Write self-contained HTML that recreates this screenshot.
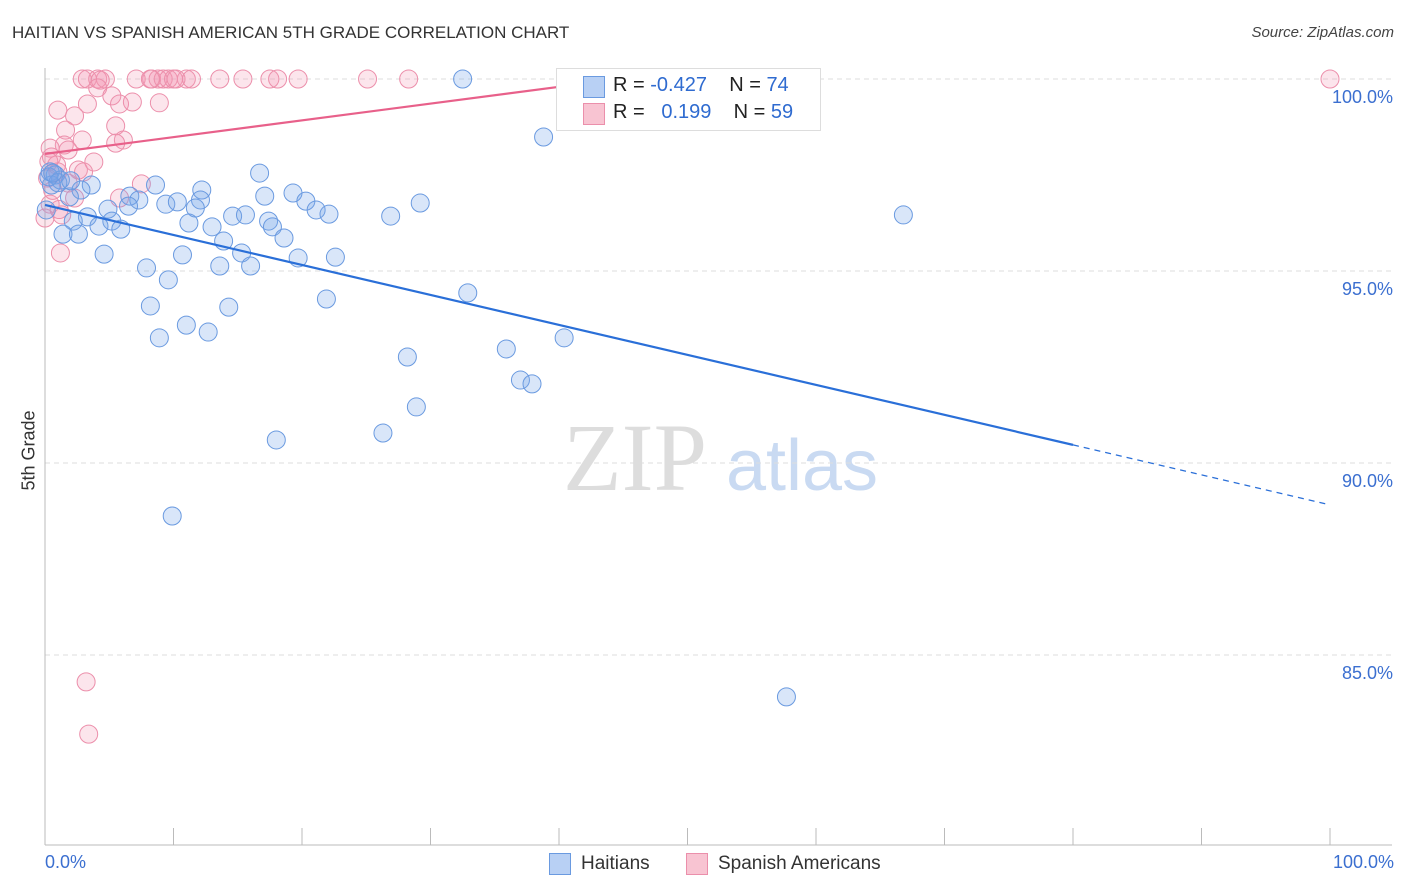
<!DOCTYPE html>
<html><head><meta charset="utf-8"><style>
body{margin:0;background:#fff;font-family:"Liberation Sans",sans-serif}
#wrap{position:relative;width:1406px;height:892px;overflow:hidden}
.t{position:absolute;white-space:nowrap}
</style></head><body>
<div id="wrap">
<div class="t" style="left:12px;top:23px;font-size:17px;color:#333">HAITIAN VS SPANISH AMERICAN 5TH GRADE CORRELATION CHART</div>
<div class="t" style="right:12px;top:24px;font-size:15px;color:#444;font-style:italic">Source: ZipAtlas.com</div>
<div class="t" style="left:4px;top:455px;font-size:18px;color:#333;transform:rotate(-90deg);transform-origin:center;width:50px;text-align:center">5th Grade</div>
<svg id="svg" width="1406" height="892" style="position:absolute;left:0;top:0">
<text x="635" y="490" font-size="96" font-family="Liberation Serif,serif" fill="#ddd" text-anchor="middle">ZIP</text>
<text x="802" y="490" font-size="72" font-family="Liberation Sans,sans-serif" fill="#c9daf2" text-anchor="middle">atlas</text>
</svg>
<div style="position:absolute;left:556px;top:68px;width:263px;height:61px;border:1px solid #ddd;background:#fff"></div>
<div style="position:absolute;left:583px;top:76px;width:20px;height:20px;background:#b8d0f4;border:1px solid #6a9ae0"></div>
<div style="position:absolute;left:583px;top:103px;width:20px;height:20px;background:#f8c4d2;border:1px solid #eb8fab"></div>
<div class="t" style="left:613px;top:74px;font-size:20px;color:#222">R = <span style="color:#2f6bd0">-0.427</span>&nbsp;&nbsp;&nbsp; N = <span style="color:#2f6bd0">74</span></div>
<div class="t" style="left:613px;top:101px;font-size:20px;color:#222">R = &nbsp;&nbsp;<span style="color:#2f6bd0">0.199</span>&nbsp;&nbsp;&nbsp; N = <span style="color:#2f6bd0">59</span></div>
<div class="t" style="left:45px;top:852px;font-size:18px;color:#3b6fd0">0.0%</div>
<div class="t" style="right:12px;top:852px;font-size:18px;color:#3b6fd0">100.0%</div>
<div style="position:absolute;left:549px;top:853px;width:20px;height:20px;background:#b8d0f4;border:1px solid #6a9ae0"></div>
<div class="t" style="left:581px;top:853px;font-size:19px;color:#333">Haitians</div>
<div style="position:absolute;left:686px;top:853px;width:20px;height:20px;background:#f8c4d2;border:1px solid #eb8fab"></div>
<div class="t" style="left:718px;top:853px;font-size:19px;color:#333">Spanish Americans</div>
</div>
<script>
const yTicks=[100,95,90,85];
const yTickLabels=["100.0%","95.0%","90.0%","85.0%"];
const xTicks=[0,10,20,30,40,50,60,70,80,90,100];
const blueX=[32.5,38.8,16.7,8.6,3.6,2.8,12.2,19.3,17.1,6.6,7.3,9.4,10.3,12.1,20.3,29.2,4.9,6.5,11.7,21.1,22.1,14.6,15.6,26.9,66.8,3.3,5.2,2.2,11.2,13.0,17.4,17.7,4.2,5.9,1.4,2.6,18.6,13.9,4.6,10.7,15.3,19.7,22.6,7.9,13.6,16.0,9.6,21.9,32.9,8.2,14.3,11.0,12.7,8.9,40.4,35.9,28.2,37.0,37.9,28.9,26.3,18.0,9.9,57.7,0.8,1.2,0.4,0.5,1.9,0.1,0.3,1.0,0.6,2.0];
const blueY=[100,98.49,97.55,97.24,97.24,97.11,97.11,97.03,96.95,96.95,96.85,96.74,96.80,96.85,96.82,96.77,96.61,96.69,96.64,96.59,96.48,96.43,96.46,96.43,96.46,96.41,96.30,96.30,96.25,96.15,96.30,96.15,96.17,96.09,95.96,95.96,95.86,95.78,95.44,95.42,95.47,95.34,95.36,95.08,95.13,95.13,94.77,94.27,94.43,94.09,94.06,93.59,93.41,93.26,93.26,92.97,92.76,92.16,92.06,91.46,90.78,90.60,88.62,83.91,97.50,97.37,97.58,97.24,96.93,96.59,97.45,97.30,97.55,97.35];
const pinkX=[2.9,3.3,4.1,4.7,7.1,8.3,8.8,9.2,9.6,10.0,11.0,13.6,15.4,17.5,18.1,19.7,25.1,28.3,100,4.3,8.2,10.2,11.4,4.1,5.2,3.3,5.8,8.9,6.8,1.0,2.3,1.6,5.5,2.9,6.1,5.5,1.5,1.8,0.4,0.5,3.8,0.9,2.6,3.0,1.0,0.2,1.8,7.5,5.8,2.3,0.4,1.3,0,1.2,3.2,3.4,0.6,1.1,0.3];
const pinkY=[100,100,100,100,100,100,100,100,100,100,100,100,100,100,100,100,100,100,100,99.97,100,100,100,99.77,99.56,99.35,99.35,99.38,99.40,99.19,99.04,98.67,98.78,98.41,98.41,98.33,98.28,98.15,98.20,97.97,97.84,97.76,97.63,97.58,97.58,97.42,97.29,97.27,96.90,96.90,96.74,96.46,96.38,95.47,84.30,82.94,97.10,96.60,97.85];
const blueTrend=[96.72,88.91];
const blueSolidEnd=80;
const pinkTrend=[98.05,99.9,42.4];
const X0=45,X1=1330,Y100=79,PX=38.4;
const sx=v=>X0+(X1-X0)*v/100;
const sy=v=>Y100+(100-v)*PX;
const svg=document.getElementById('svg');
const NS='http://www.w3.org/2000/svg';
function mk(tag,attrs){const e=document.createElementNS(NS,tag);for(const k in attrs)e.setAttribute(k,attrs[k]);svg.appendChild(e);return e;}
yTicks.forEach((t,i)=>{
 const g=mk('line',{x1:45,x2:1392,y1:sy(t),y2:sy(t),stroke:'#ddd','stroke-dasharray':'5,4'});
 
 
 const tx=mk('text',{x:1393,y:sy(t)+24,'text-anchor':'end','font-size':18,fill:'#3b6fd0','font-family':'Liberation Sans,sans-serif'});
 tx.textContent=yTickLabels[i];
 
 
});
const ax=mk('line',{x1:45,x2:45,y1:68,y2:845,stroke:'#bbb'});


const bx=mk('line',{x1:45,x2:1392,y1:845,y2:845,stroke:'#bbb'});


xTicks.forEach(t=>{
 const l=mk('line',{x1:sx(t),x2:sx(t),y1:828,y2:845,stroke:'#bbb'});
 
 
});
pinkX.forEach((x,i)=>{
 const c=mk('circle',{cx:sx(x),cy:sy(pinkY[i]),r:9,fill:'rgba(243,150,178,0.25)',stroke:'#ec8fab','stroke-width':1});
 
 
});
blueX.forEach((x,i)=>{
 const c=mk('circle',{cx:sx(x),cy:sy(blueY[i]),r:9,fill:'rgba(120,165,235,0.28)',stroke:'#6a9ae0','stroke-width':1});
 
 
});
const bAt=x=>blueTrend[0]+(blueTrend[1]-blueTrend[0])*x/100;
const bl=mk('line',{x1:sx(0),y1:sy(bAt(0)),x2:sx(blueSolidEnd),y2:sy(bAt(blueSolidEnd)),stroke:'#2a6fd8','stroke-width':2.2});


const bd=mk('line',{x1:sx(blueSolidEnd),y1:sy(bAt(blueSolidEnd)),x2:sx(100),y2:sy(bAt(100)),stroke:'#2a6fd8','stroke-width':1.2,'stroke-dasharray':'6,5'});


const pl=mk('line',{x1:sx(0),y1:sy(pinkTrend[0]),x2:sx(pinkTrend[2]),y2:sy(pinkTrend[1]),stroke:'#e8608a','stroke-width':2.2});


</script>
</body></html>
